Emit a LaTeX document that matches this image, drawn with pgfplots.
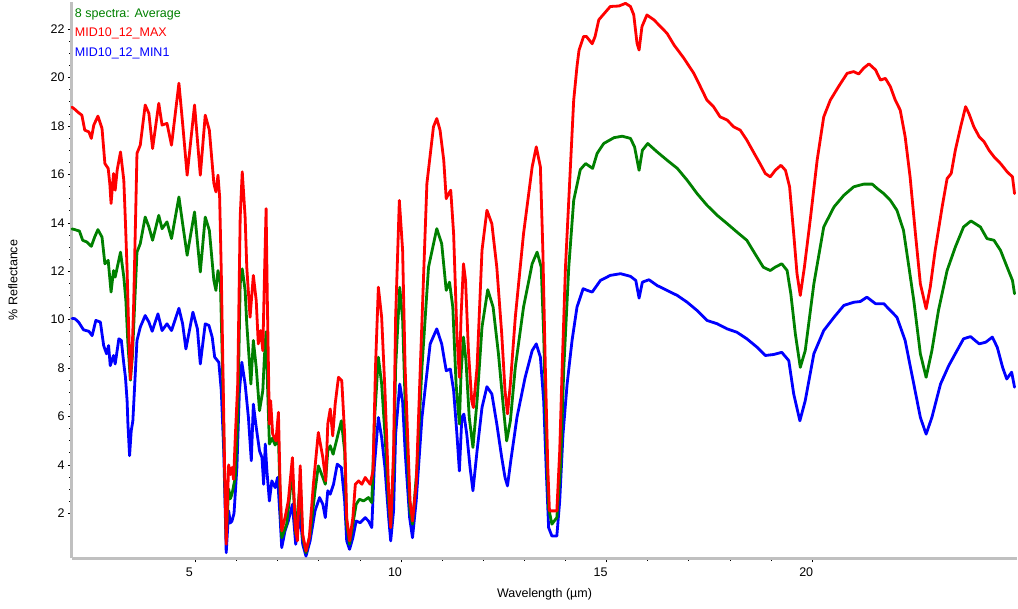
\documentclass[border=0pt]{standalone}
\usepackage{pgfplots}
\pgfplotsset{compat=1.18}
\usepackage{fontspec}
\setmainfont{Liberation Sans}
\definecolor{avgcol}{RGB}{0,128,0}
\definecolor{maxcol}{RGB}{255,0,0}
\definecolor{mincol}{RGB}{0,0,255}
\definecolor{axgrey}{RGB}{192,192,192}
\newcommand{\lblfont}{\fontsize{12.5bp}{15bp}\selectfont}
\begin{document}
\begin{tikzpicture}
\begin{axis}[
  name=ax,
  scale only axis,
  width=945bp, height=556.4bp,
  xmin=2, xmax=24.98, ymin=0.14, ymax=23.13,
  axis x line*=bottom, axis y line*=left,
  axis line style={draw=axgrey, line width=3bp, -},
  xtick={5,10,15,20}, minor x tick num=4,
  ytick={2,4,...,22}, minor y tick num=3,
  tick align=outside,
  major tick length=4bp, minor tick length=2.5bp,
  tick style={black, line width=0.7bp},
  /pgf/number format/assume math mode=true,
  ticklabel style={font=\lblfont},
  xticklabel style={xshift=-6bp, yshift=-2bp},
  xlabel={Wavelength (µm)},
  ylabel={\% Reflectance},
  label style={font=\lblfont},
  xlabel style={at={(axis description cs:0.5,0)}, anchor=center, yshift=-36bp},
  ylabel style={at={([xshift=-59bp]axis description cs:0,0.5)}, anchor=center},
  clip=false,
  legend style={at={(axis description cs:0,1)}, anchor=north west,
    draw=none, fill=none, inner sep=0pt, outer sep=0pt,
    row sep=6.3bp, xshift=3bp, yshift=-5.6bp,
    font=\lblfont,
    nodes={inner sep=0pt, text height=10bp, text depth=3bp}},
  legend cell align=left,
  every axis plot/.append style={line width=2.8bp, line join=round, line cap=round},
]
\addlegendimage{empty legend}
\addlegendentry[text=avgcol]{8 spectra: Average}
\addlegendimage{empty legend}
\addlegendentry[text=maxcol]{MID10\_12\_MAX}
\addlegendimage{empty legend}
\addlegendentry[text=mincol]{MID10\_12\_MIN1}

% MIN1 (blue)
\addplot[mincol, forget plot] table {
2.00 10.05
2.07 10.04
2.16 9.90
2.28 9.58
2.41 9.52
2.49 9.34
2.58 9.97
2.69 9.90
2.77 8.93
2.84 8.59
2.89 8.93
2.93 8.10
3.01 8.52
3.05 8.17
3.14 9.21
3.20 9.14
3.26 8.17
3.30 7.62
3.34 6.65
3.36 5.69
3.40 4.38
3.44 5.41
3.48 5.82
3.53 7.48
3.58 9.14
3.66 9.69
3.78 10.17
3.87 9.90
3.95 9.52
4.09 10.24
4.19 9.55
4.31 9.83
4.42 9.55
4.60 10.47
4.69 9.83
4.77 8.79
4.94 10.31
5.05 9.62
5.12 8.17
5.24 9.83
5.33 9.76
5.41 9.27
5.47 8.45
5.57 8.24
5.63 7.07
5.69 4.58
5.73 1.82
5.75 0.37
5.81 2.10
5.85 1.60
5.89 1.68
5.94 2.00
6.01 3.89
6.07 7.00
6.13 8.24
6.21 7.34
6.29 5.96
6.36 4.17
6.41 6.51
6.48 5.55
6.56 4.58
6.62 4.30
6.66 3.20
6.70 4.86
6.74 3.75
6.80 2.51
6.86 3.34
6.94 3.06
7.00 3.48
7.06 1.82
7.10 0.58
7.18 1.27
7.26 1.68
7.36 2.37
7.44 0.72
7.55 1.96
7.61 0.72
7.69 0.23
7.79 0.86
7.91 2.10
8.02 2.65
8.10 2.37
8.16 1.82
8.22 2.93
8.28 2.79
8.36 3.20
8.45 4.03
8.55 3.89
8.63 2.51
8.68 0.86
8.75 0.51
8.83 0.99
8.91 1.68
9.01 1.61
9.13 1.82
9.21 1.68
9.29 1.41
9.35 3.89
9.45 5.96
9.53 5.13
9.61 3.89
9.70 1.82
9.75 0.86
9.82 2.10
9.87 5.27
9.97 7.34
10.04 6.60
10.10 4.58
10.21 1.82
10.28 0.99
10.37 2.51
10.51 5.96
10.71 9.00
10.87 9.62
10.99 9.00
11.10 7.89
11.20 7.96
11.28 7.07
11.36 5.27
11.42 3.75
11.48 5.96
11.53 6.10
11.60 5.27
11.68 3.89
11.75 2.93
11.85 4.58
11.97 6.37
12.09 7.23
12.21 6.93
12.33 5.69
12.45 4.30
12.53 3.48
12.59 3.13
12.67 4.17
12.82 5.96
13.02 7.62
13.19 8.72
13.29 9.00
13.39 8.45
13.47 6.65
13.53 3.89
13.59 1.41
13.67 1.06
13.79 1.06
13.86 2.51
13.94 5.27
14.04 7.34
14.16 9.14
14.28 10.52
14.43 11.28
14.53 11.21
14.65 11.14
14.85 11.62
15.09 11.83
15.34 11.90
15.58 11.79
15.71 11.62
15.79 10.89
15.87 11.55
16.03 11.65
16.23 11.41
16.47 11.21
16.72 11.00
16.96 10.72
17.20 10.38
17.44 9.97
17.69 9.83
17.93 9.62
18.17 9.48
18.41 9.21
18.66 8.86
18.86 8.52
19.06 8.56
19.26 8.65
19.43 8.31
19.55 6.93
19.70 5.82
19.83 6.65
20.04 8.59
20.28 9.55
20.53 10.10
20.77 10.59
21.01 10.72
21.17 10.75
21.33 10.93
21.54 10.66
21.74 10.66
21.90 10.38
22.06 10.10
22.26 9.14
22.47 7.34
22.63 5.96
22.77 5.27
22.91 5.96
23.12 7.34
23.32 8.10
23.52 8.72
23.68 9.21
23.85 9.30
24.06 9.00
24.22 9.07
24.38 9.28
24.50 8.86
24.63 8.03
24.73 7.55
24.85 7.83
24.92 7.21
};

% Average (green)
\addplot[avgcol, forget plot] table {
2.00 13.75
2.07 13.72
2.18 13.66
2.26 13.28
2.36 13.21
2.47 13.03
2.55 13.41
2.63 13.72
2.73 13.41
2.80 12.31
2.88 12.45
2.95 11.14
3.01 12.03
3.05 11.76
3.18 12.79
3.26 11.76
3.31 10.79
3.36 9.00
3.42 7.50
3.47 8.50
3.52 10.50
3.58 12.79
3.66 13.14
3.78 14.24
3.87 13.83
3.96 13.28
4.11 14.31
4.19 13.76
4.31 14.04
4.42 13.35
4.60 15.07
4.69 13.97
4.80 12.66
4.98 14.45
5.12 11.97
5.24 14.24
5.34 13.69
5.45 11.62
5.50 11.21
5.55 12.03
5.61 11.48
5.66 8.00
5.70 4.50
5.75 1.00
5.78 2.00
5.81 3.00
5.85 2.60
5.89 2.79
5.97 3.48
6.03 5.96
6.09 11.48
6.14 12.10
6.21 11.21
6.25 9.83
6.35 7.34
6.41 9.14
6.48 8.03
6.56 6.24
6.64 7.07
6.68 8.50
6.72 9.50
6.76 7.00
6.80 4.86
6.87 5.10
6.94 4.82
7.02 5.13
7.06 2.79
7.10 0.99
7.22 1.55
7.36 3.75
7.44 1.13
7.55 3.34
7.61 0.99
7.69 0.37
7.79 1.13
7.91 2.93
7.99 3.96
8.10 3.48
8.16 3.20
8.22 4.58
8.28 4.79
8.35 4.44
8.45 5.13
8.55 5.82
8.63 4.58
8.68 1.55
8.75 0.72
8.83 1.55
8.91 2.37
8.99 2.58
9.09 2.51
9.21 2.65
9.29 2.44
9.36 5.96
9.45 8.45
9.53 7.34
9.61 5.27
9.70 2.51
9.75 1.41
9.82 3.89
9.87 8.03
9.97 11.34
10.04 10.00
10.10 6.65
10.22 2.10
10.28 1.55
10.39 3.89
10.51 8.03
10.67 12.17
10.87 13.76
10.99 13.14
11.10 11.21
11.18 11.55
11.26 10.52
11.34 7.34
11.42 5.69
11.46 7.76
11.52 9.28
11.58 8.31
11.66 5.96
11.75 4.72
11.85 6.65
11.97 9.69
12.11 11.24
12.24 10.52
12.37 8.59
12.49 6.37
12.57 4.99
12.66 5.82
12.78 8.03
12.98 10.52
13.19 12.31
13.31 12.79
13.41 12.17
13.47 9.41
13.53 5.27
13.59 2.23
13.67 1.55
13.79 1.82
13.88 3.89
13.96 8.03
14.08 12.17
14.20 14.93
14.36 16.20
14.49 16.45
14.66 16.25
14.77 16.87
14.93 17.28
15.18 17.52
15.38 17.58
15.58 17.49
15.68 17.14
15.79 16.17
15.87 17.00
16.00 17.28
16.23 16.93
16.47 16.59
16.72 16.25
16.96 15.76
17.20 15.21
17.44 14.73
17.69 14.31
17.93 13.97
18.17 13.62
18.41 13.28
18.61 12.72
18.81 12.17
18.98 12.03
19.10 12.17
19.26 12.31
19.39 12.03
19.48 11.07
19.59 9.41
19.71 8.03
19.83 8.72
20.04 11.48
20.28 13.83
20.53 14.66
20.77 15.14
21.01 15.49
21.25 15.60
21.46 15.60
21.58 15.42
21.74 15.21
21.90 14.93
22.06 14.52
22.22 13.69
22.34 12.31
22.47 10.79
22.63 8.59
22.77 7.62
22.91 8.72
23.07 10.38
23.28 12.03
23.48 13.00
23.68 13.83
23.86 14.08
24.09 13.83
24.25 13.35
24.42 13.28
24.58 12.86
24.74 12.17
24.87 11.62
24.92 11.07
};

% MAX (red)
\addplot[maxcol, forget plot] table {
2.00 18.78
2.07 18.69
2.16 18.55
2.24 18.45
2.31 17.83
2.41 17.76
2.47 17.49
2.53 18.04
2.63 18.41
2.73 17.90
2.80 16.45
2.88 16.25
2.92 15.60
2.95 14.80
3.01 16.04
3.05 15.35
3.10 16.20
3.18 16.93
3.26 15.76
3.30 14.00
3.34 12.04
3.38 9.50
3.42 7.55
3.46 8.50
3.50 10.66
3.55 14.50
3.58 16.87
3.66 17.21
3.78 18.87
3.87 18.52
3.96 17.07
4.11 18.94
4.19 18.04
4.31 18.11
4.42 17.21
4.60 19.77
4.69 18.11
4.80 15.97
4.98 18.87
5.12 15.97
5.24 18.45
5.34 17.83
5.45 15.63
5.50 15.28
5.55 15.97
5.59 15.07
5.63 12.00
5.67 8.00
5.71 4.00
5.75 0.72
5.78 2.50
5.81 4.00
5.85 3.60
5.89 3.89
5.93 3.40
5.97 5.13
6.03 7.34
6.09 14.24
6.14 16.11
6.21 14.24
6.25 12.17
6.33 10.10
6.41 11.83
6.48 10.79
6.53 9.00
6.59 9.55
6.64 8.72
6.68 11.76
6.72 14.59
6.75 10.79
6.80 5.69
6.83 6.65
6.88 5.27
6.96 4.99
7.02 6.17
7.06 3.20
7.10 1.27
7.18 1.82
7.26 2.51
7.36 4.30
7.43 1.41
7.48 0.86
7.55 3.96
7.61 1.13
7.69 0.44
7.77 0.99
7.87 3.20
7.99 5.34
8.10 4.30
8.17 3.34
8.22 5.69
8.28 6.31
8.34 5.20
8.40 6.52
8.48 7.62
8.56 7.48
8.63 5.27
8.68 1.82
8.75 0.86
8.83 1.82
8.89 3.20
8.97 3.34
9.05 3.20
9.13 3.48
9.25 3.20
9.32 3.75
9.38 8.03
9.45 11.34
9.53 10.10
9.61 7.07
9.70 2.93
9.75 1.41
9.82 4.58
9.87 10.10
9.96 14.93
10.04 12.86
10.10 8.03
10.22 2.51
10.28 1.68
10.37 3.20
10.47 8.03
10.63 15.62
10.79 17.97
10.87 18.31
10.95 17.83
11.04 16.59
11.10 15.00
11.16 15.21
11.21 15.35
11.28 13.55
11.36 9.41
11.42 7.62
11.46 10.10
11.52 12.31
11.57 11.62
11.64 8.72
11.72 6.65
11.76 6.37
11.85 8.03
11.97 12.86
12.09 14.52
12.21 13.96
12.33 12.17
12.45 9.41
12.53 7.07
12.59 6.11
12.66 7.34
12.78 10.10
12.98 13.55
13.19 16.31
13.29 17.14
13.39 16.31
13.45 12.86
13.51 8.03
13.57 3.89
13.61 2.10
13.79 2.10
13.86 4.58
13.92 8.03
14.00 12.17
14.08 14.93
14.20 19.07
14.28 20.46
14.33 21.14
14.44 21.70
14.51 21.70
14.65 21.40
14.72 21.70
14.81 22.39
15.09 22.94
15.30 22.96
15.46 23.07
15.58 22.94
15.66 22.60
15.74 21.42
15.79 21.14
15.86 22.11
15.98 22.59
16.15 22.39
16.31 22.11
16.47 21.83
16.64 21.35
16.88 20.80
17.12 20.18
17.28 19.63
17.44 19.07
17.60 18.80
17.76 18.38
17.93 18.25
18.09 17.97
18.25 17.83
18.41 17.42
18.57 16.93
18.73 16.45
18.86 16.04
18.98 15.90
19.10 16.17
19.24 16.38
19.35 16.17
19.45 15.49
19.55 13.55
19.63 11.90
19.71 11.00
19.81 12.17
19.96 14.24
20.12 16.59
20.28 18.38
20.44 19.07
20.64 19.63
20.85 20.18
21.01 20.25
21.13 20.15
21.25 20.39
21.38 20.57
21.54 20.32
21.66 19.90
21.78 19.97
21.90 19.63
22.02 19.07
22.14 18.66
22.26 17.56
22.38 15.90
22.51 13.55
22.63 11.48
22.77 10.45
22.87 11.34
22.99 12.86
23.16 14.66
23.28 15.83
23.38 16.04
23.48 17.00
23.61 17.97
23.73 18.80
23.81 18.52
23.93 17.97
24.06 17.56
24.18 17.35
24.30 17.00
24.42 16.73
24.58 16.45
24.74 16.11
24.87 15.90
24.92 15.21
};
\end{axis}
\pgfresetboundingbox
\path[use as bounding box] ([xshift=-72bp,yshift=-50.7bp]ax.south west) rectangle ++(1018bp,609bp);
\end{tikzpicture}
\end{document}
